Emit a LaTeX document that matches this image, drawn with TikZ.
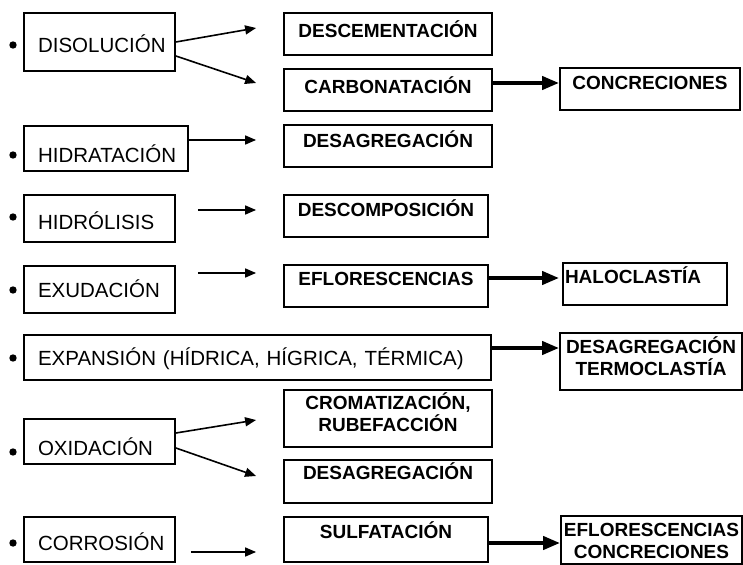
\documentclass[tikz,border=0pt]{standalone}
\usepackage{fontspec}
\setmainfont{Liberation Sans}
\usetikzlibrary{arrows.meta}
\hyphenpenalty=10000

\tikzset{
  proc/.style={draw, line width=1.8pt, inner xsep=14pt, inner ysep=0pt, align=left, text depth=0pt,
    font=\fontsize{20.5}{23}\selectfont},
  efecto/.style={draw, line width=1.8pt, inner xsep=2pt, inner ysep=0pt, align=center, text height=13.6pt,
    font=\fontsize{19}{22}\selectfont\bfseries},
  flecha/.style={line width=1.6pt, -{Triangle[length=11pt,width=9pt]}},
  flechagruesa/.style={line width=4pt, -{Triangle[length=17pt,width=13pt]}}
}

\begin{document}
\begin{tikzpicture}[x=1pt, y=-1pt]
    \useasboundingbox (0,0) rectangle (743,564);
    \fill[white] (0,0) rectangle (743,564);

    % Procesos
    \node[proc, text width=123pt, minimum width=151pt, minimum height=58pt, text height=20.7pt] (dis) at (99.5,42) {DISOLUCIÓN};
    \node[proc, text width=136pt, minimum width=164pt, minimum height=45pt, text height=27.7pt] (hidra) at (106,148.5) {HIDRATACIÓN};
    \node[proc, text width=123pt, minimum width=151pt, minimum height=47pt, text height=21.7pt] (hidro) at (99.5,218.5) {HIDRÓLISIS};
    \node[proc, text width=123pt, minimum width=151pt, minimum height=47pt, text height=15.7pt] (exu) at (99.5,289.5) {EXUDACIÓN};
    \node[proc, text width=439pt, minimum width=467pt, minimum height=45pt, text height=15.7pt] (expa) at (257.5,357.5) {EXPANSIÓN (HÍDRICA, HÍGRICA, TÉRMICA)};
    \node[proc, text width=123pt, minimum width=151pt, minimum height=45pt, text height=27.7pt] (oxi) at (99.5,441.5) {OXIDACIÓN};
    \node[proc, text width=123pt, minimum width=151pt, minimum height=45pt, text height=21.7pt] (corr) at (99.5,539.5) {CORROSIÓN};

    % Bullets
    \foreach \y in {45,155,217,290,358,452,543} \fill (13,\y) circle (3.7pt);

    % Efectos
    \node[efecto, minimum width=208pt, minimum height=42pt, text depth=6pt] (desc) at (388,34) {DESCEMENTACIÓN};
    \node[efecto, minimum width=208pt, minimum height=42pt, text depth=6pt] (carb) at (388,90) {CARBONATACIÓN};
    \node[efecto, minimum width=208pt, minimum height=42pt, text depth=10pt] (desag) at (388,146) {DESAGREGACIÓN};
    \node[efecto, minimum width=204pt, minimum height=42pt, text depth=12pt] (descomp) at (386,216) {DESCOMPOSICIÓN};
    \node[efecto, minimum width=204pt, minimum height=42pt, text depth=14pt] (eflor) at (386,286) {EFLORESCENCIAS};
    \node[efecto, minimum width=208pt, minimum height=57pt, text height=26.6pt, text depth=0pt] (croma) at (388,418.5) {CROMATIZACIÓN,\\RUBEFACCIÓN};
    \node[efecto, minimum width=208pt, minimum height=43pt, text depth=17pt] (desag2) at (388,481.5) {DESAGREGACIÓN};
    \node[efecto, minimum width=204pt, minimum height=45pt, text depth=15pt] (sulf) at (386,539.5) {SULFATACIÓN};

    \node[efecto, minimum width=180pt, minimum height=42pt, text depth=12pt] (concr) at (650,89) {CONCRECIONES};
    \node[efecto, text width=160pt, align=left, minimum height=42pt, text depth=14pt] (halo) at (645,284) {HALOCLASTÍA};
    \node[efecto, minimum width=182pt, minimum height=57pt, text height=27.6pt, text depth=0pt] (termo) at (651,361.5) {DESAGREGACIÓN\\TERMOCLASTÍA};
    \node[efecto, minimum width=181pt, minimum height=48pt, text height=37.6pt, text depth=0pt] (eflconc) at (651.5,540) {EFLORESCENCIAS\\CONCRECIONES};

    % Flechas
    \draw[flecha] (dis.east) -- ([xshift=-27pt,yshift=6pt]desc.west);
    \draw[flecha] ([yshift=-14pt]dis.east) -- ([xshift=-27pt,yshift=7pt]carb.west);
    \draw[flecha] ([yshift=8.5pt]hidra.east) -- ([xshift=-27pt,yshift=6pt]desag.west);
    \draw[flecha] ([xshift=22pt,yshift=8.5pt]hidro.east) -- ([xshift=-27pt,yshift=6pt]descomp.west);
    \draw[flecha] ([xshift=22pt,yshift=16.5pt]exu.east) -- ([xshift=-27pt,yshift=13pt]eflor.west);
    \draw[flecha] ([yshift=8.5pt]oxi.east) -- ([xshift=-27pt,yshift=-1.5pt]croma.west);
    \draw[flecha] ([yshift=-6.5pt]oxi.east) -- ([xshift=-27pt,yshift=5.5pt]desag2.west);
    \draw[flecha] ([xshift=15pt,yshift=-12.5pt]corr.east) -- ([xshift=-27pt,yshift=-12.5pt]sulf.west);

    \draw[flechagruesa] ([yshift=7pt]carb.east) -- ([yshift=6pt]concr.west);
    \draw[flechagruesa] ([yshift=8pt]eflor.east) -- ([xshift=-3pt,yshift=6pt]halo.west);
    \draw[flechagruesa] ([yshift=9.5pt]expa.east) -- ([yshift=13.5pt]termo.west);
    \draw[flechagruesa] ([yshift=-3.5pt]sulf.east) -- ([yshift=-3pt]eflconc.west);
\end{tikzpicture}
\end{document}
